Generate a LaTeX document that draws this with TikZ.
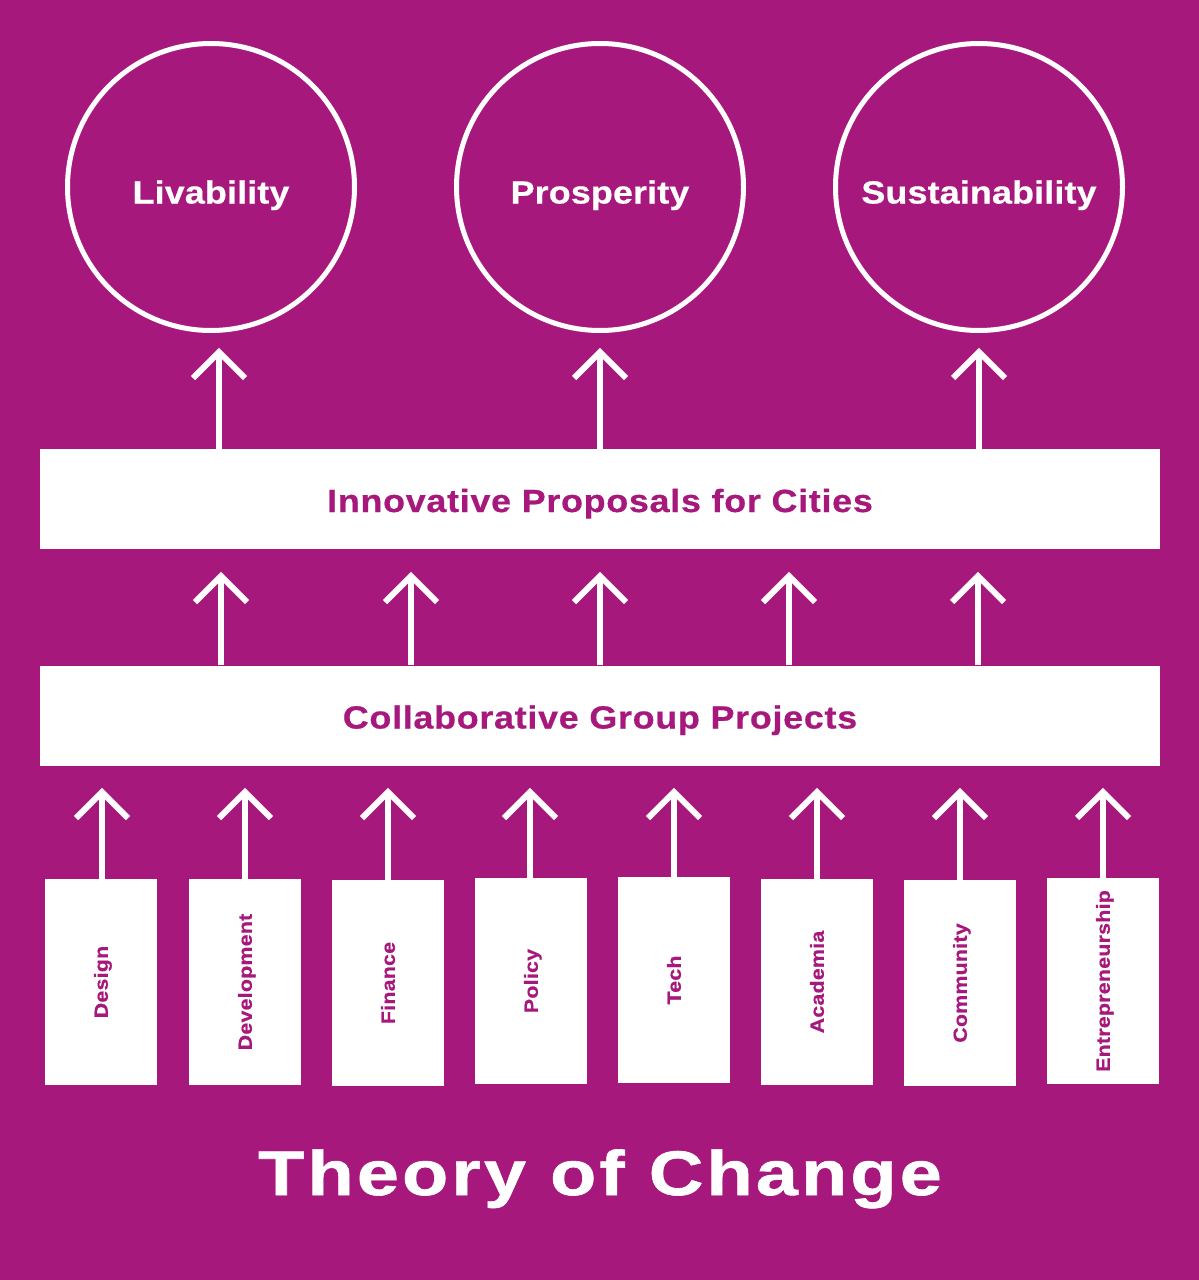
\documentclass[tikz,border=0pt]{standalone}
\usepackage{fontspec}
\setmainfont{Liberation Sans}
\newfontfamily\titlefont{Liberation Sans}[FakeStretch=1.2, LetterSpace=5.0, FakeBold=1]
\newfontfamily\circfont{Liberation Sans}[FakeStretch=1.12, LetterSpace=0.5, FakeBold=0.6]
\newfontfamily\bandfont{Liberation Sans}[FakeStretch=1.12, LetterSpace=2.3, FakeBold=0.6]
\newfontfamily\smallfont{Liberation Sans}[FakeStretch=1.12, LetterSpace=1.5, FakeBold=0.6]
\definecolor{bg}{RGB}{167,24,125}
\tikzset{
  goal/.style={circle, draw=white, line width=5pt, minimum size=287pt, inner sep=0pt,
    text=white, font=\circfont\bfseries\fontsize{32}{38}\selectfont, text height=33pt, text depth=0pt},
  band/.style={rectangle, fill=white, minimum width=1120pt, minimum height=100pt, inner sep=0pt,
    text=bg, font=\bandfont\bfseries\fontsize{32}{38}\selectfont, text height=26pt, text depth=0pt},
  sector/.style={rectangle, fill=white, minimum width=112pt, minimum height=206pt, inner sep=0pt},
  sectorlbl/.style={rotate=90, text=bg, inner sep=0pt, font=\smallfont\bfseries\fontsize{19}{23}\selectfont,
    text height=13.6pt, text depth=0pt},
  conn/.style={draw=white, line width=6pt, line cap=butt},
  head/.style={draw=white, line width=6pt, line cap=butt, line join=miter},
  titletext/.style={text=white, inner sep=0pt, font=\titlefont\bfseries\fontsize{63}{70}\selectfont,
    text height=45pt, text depth=0pt}
}
\begin{document}
\begin{tikzpicture}[x=1pt,y=-1pt]
\fill[bg] (0,0) rectangle (1199,1280);
\useasboundingbox (0,0) rectangle (1199,1280);

% goals
\node[goal] (liv) at (211,187) {Livability};
\node[goal] (pro) at (600,187) {Prosperity};
\node[goal] (sus) at (979,187) {Sustainability};

% bands
\node[band] (ipc) at (600,499) {Innovative Proposals for Cities};
\node[band] (cgp) at (600,715.5) {Collaborative Group Projects};

% sectors
\node[sector, label={[sectorlbl]center:Design}] (d1) at (101,982) {};
\node[sector, label={[sectorlbl]center:Development}] (d2) at (245,982) {};
\node[sector, label={[sectorlbl]center:Finance}] (d3) at (388,983) {};
\node[sector, label={[sectorlbl]center:Policy}] (d4) at (531,981) {};
\node[sector, label={[sectorlbl]center:Tech}] (d5) at (674,980) {};
\node[sector, label={[sectorlbl]center:Academia}] (d6) at (817,982) {};
\node[sector, label={[sectorlbl]center:Community}] (d7) at (960,983) {};
\node[sector, label={[sectorlbl]center:Entrepreneurship}] (d8) at (1103,981) {};

% title
\node[titletext] (title) at (600,1172.5) {Theory of Change};

% arrow tips
\coordinate (a1) at (219,352);
\coordinate (a2) at (600,352);
\coordinate (a3) at (979,352);
\coordinate (b1) at (221,576);
\coordinate (b2) at (411,576);
\coordinate (b3) at (600,576);
\coordinate (b4) at (789,576);
\coordinate (b5) at (978,576);
\coordinate (c1) at (102,792);
\coordinate (c2) at (245,792);
\coordinate (c3) at (388,792);
\coordinate (c4) at (530,792);
\coordinate (c5) at (674,792);
\coordinate (c6) at (817,792);
\coordinate (c7) at (960,792);
\coordinate (c8) at (1103,792);

\foreach \t/\s in {a1/ipc,a2/ipc,a3/ipc,b1/cgp,b2/cgp,b3/cgp,b4/cgp,b5/cgp,
                   c1/d1,c2/d2,c3/d3,c4/d4,c5/d5,c6/d6,c7/d7,c8/d8}{
  \draw[conn] (\s.north -| \t) -- (\t);
  \draw[head] ([shift={(-26,26)}]\t) -- (\t) -- ([shift={(26,26)}]\t);
}
\end{tikzpicture}
\end{document}
